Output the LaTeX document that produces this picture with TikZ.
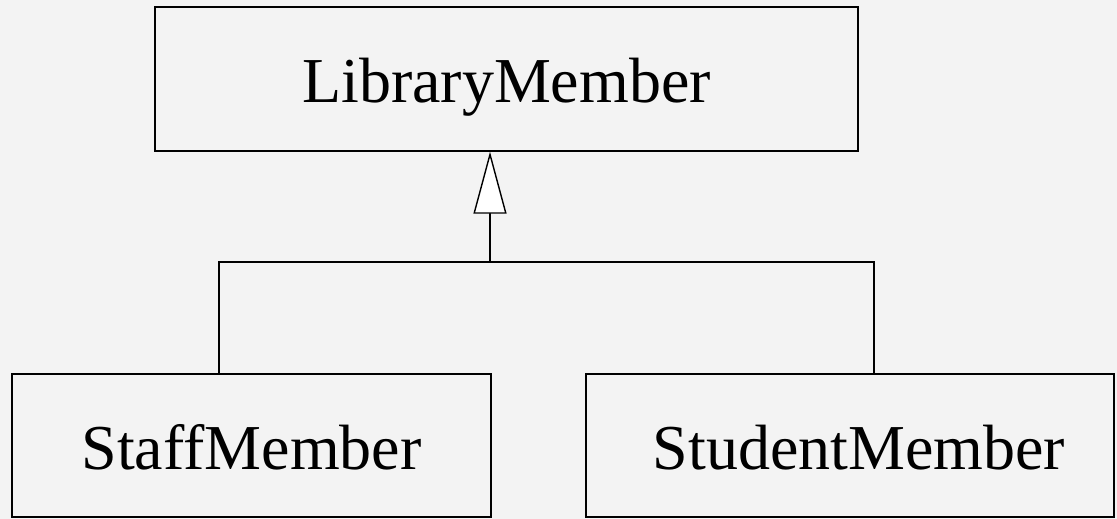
\documentclass[tikz,border=0pt]{standalone}
\usepackage{fontspec}
\setmainfont{Liberation Serif}
\usetikzlibrary{arrows.meta}
\definecolor{bggray}{HTML}{F3F3F3}
\begin{document}
\begin{tikzpicture}[x=1pt,y=-1pt,
  classbox/.style={draw=black, line width=1.4pt, fill=bggray, inner sep=0pt,
    text height=47pt, text depth=0pt,
    font=\fontsize{64}{77}\selectfont},
  link/.style={draw=black, line width=1.4pt},
  inherit/.style={link, -{Triangle[length=62pt,width=33pt,fill=white,line width=1.4pt]}}]
  % canvas
  \fill[bggray] (0,0) rectangle (1117,519);
  \useasboundingbox (0,0) rectangle (1117,519);
  % classes
  \node[classbox, minimum width=703pt, minimum height=144pt] (lib) at (506.5,79) {LibraryMember};
  \node[classbox, minimum width=479pt, minimum height=143pt] (staff) at (251.5,445.5) {StaffMember};
  \node[classbox, minimum width=528pt, minimum height=143pt] (student) at (850,445.5) {\hspace{18pt}StudentMember};
  % generalisation tree
  \coordinate (jl) at (219,262);
  \coordinate (jr) at (874,262);
  \coordinate (jm) at (490,262);
  \draw[link] (jl |- staff.north) -- (jl) -- (jr) -- (jr |- student.north);
  \draw[inherit] (jm) -- (jm |- lib.south);
\end{tikzpicture}
\end{document}
